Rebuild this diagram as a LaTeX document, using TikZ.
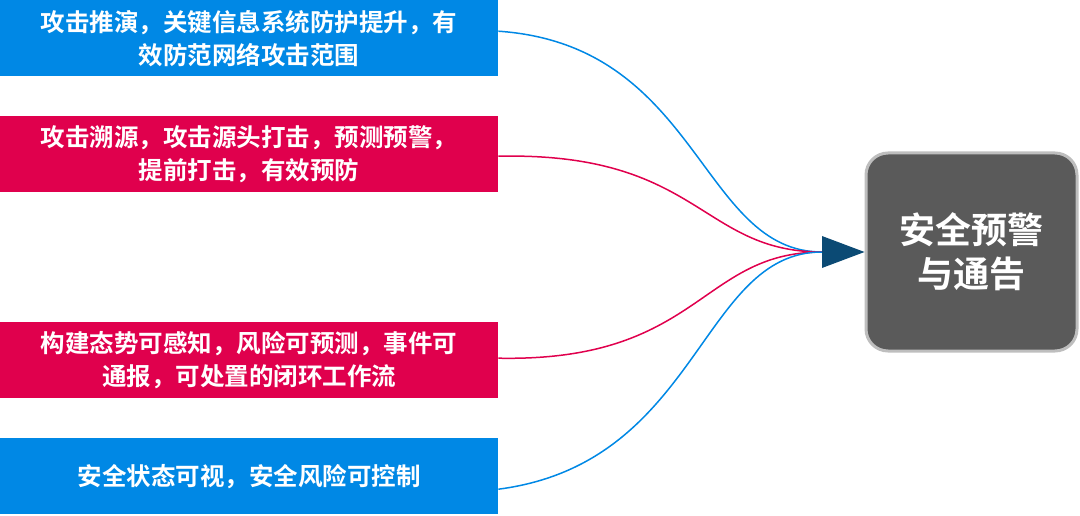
\documentclass[tikz,border=0pt]{standalone}
\usepackage{fontspec}
\newfontfamily\cjk{Noto Sans CJK SC}[BoldFont={Noto Sans CJK SC Bold}]
\definecolor{cb}{RGB}{0,136,229}
\definecolor{cr}{RGB}{224,0,77}
\definecolor{cg}{RGB}{90,90,90}
\definecolor{cgb}{RGB}{190,190,190}
\definecolor{cn}{RGB}{11,74,116}
\begin{document}
\begin{tikzpicture}[x=1pt,y=-1pt,
  box/.style={minimum width=498pt,minimum height=76pt,inner sep=0pt,anchor=north west,text=white,font=\cjk\bfseries\fontsize{24.5}{33}\selectfont,align=center,text width=496pt},
  bl/.style={fill=cb},
  rd/.style={fill=cr},
  lb/.style={draw=cb,line width=1.5pt},
  lr/.style={draw=cr,line width=1.5pt}]
\useasboundingbox (0,0) rectangle (1080,516);
\node[box,bl] (a) at (0,0) {攻击推演，关键信息系统防护提升，有\\效防范网络攻击范围};
\node[box,rd] (b) at (0,116) {攻击溯源，攻击源头打击，预测预警，\\提前打击，有效预防};
\node[box,rd] (c) at (0,322) {构建态势可感知，风险可预测，事件可\\通报，可处置的闭环工作流};
\node[box,bl] (d) at (0,438) {安全状态可视，安全风险可控制};
\node[draw=cgb,line width=3pt,fill=cg,rounded corners=22pt,minimum width=211pt,minimum height=198pt,text=white,font=\cjk\bfseries\fontsize{36}{44}\selectfont,align=center] (t) at (971.5,252) {安全预警\\与通告};
\coordinate (p) at (822,252);
\draw[lb] ([yshift=7pt]a.east) .. controls (700,45) and (700,252) .. (p);
\draw[lr] ([yshift=-2pt]b.east) .. controls (700,152) and (700,252) .. (p);
\draw[lr] ([yshift=2pt]c.east) .. controls (700,362) and (700,252) .. (p);
\draw[lb] ([yshift=-13pt]d.east) .. controls (700,463) and (700,252) .. (p);
\fill[cn] (t.west) -- (822,236) -- (822,268) -- cycle;
\end{tikzpicture}
\end{document}
